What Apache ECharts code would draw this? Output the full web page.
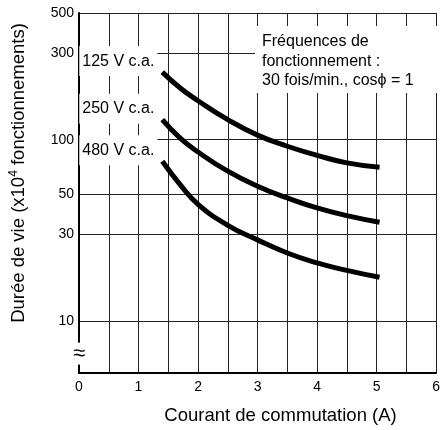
<!DOCTYPE html>
<html>
<head>
<meta charset="utf-8">
<script src="https://cdn.jsdelivr.net/npm/echarts@6/dist/echarts.min.js"></script>
<style>
  html, body { margin: 0; padding: 0; background: #fff; }
  #chart { width: 443px; height: 430px; }
</style>
</head>
<body>
<div id="chart"></div>
<script>
// courant de commutation (A)
const currentA = [1.4, 1.7, 2.0, 2.5, 3.0, 3.5, 4.0, 4.5, 5.05];
// durée de vie (x10^4 fonctionnements)
const life125 = [236, 193, 164, 129, 106, 92, 82, 74.5, 70.5];
const life250 = [129, 102, 85.5, 67, 55.3, 47.7, 42, 38.1, 35];
const life480 = [76, 56.5, 44, 33.7, 28, 23.7, 20.9, 19.0, 17.4];
const seriesNames = ['125 V c.a.', '250 V c.a.', '480 V c.a.'];
const yTicks = [10, 30, 50, 100, 300, 500];

const FONT = '"Liberation Sans", Arial, sans-serif';

const chart = echarts.init(document.getElementById('chart'));

const makeSeries = (name, values) => ({
  name: name,
  type: 'line',
  smooth: true,
  symbol: 'none',
  lineStyle: { color: '#000', width: 5, cap: 'butt' },
  data: currentA.map((x, i) => i === 0
    ? {
        value: [x, values[i]],
        symbol: 'circle',
        symbolSize: 0,
        label: {
          show: true,
          formatter: name,
          position: 'left',
          distance: 5,
          offset: [0, -11],
          color: '#000',
          fontFamily: FONT,
          fontSize: 16,
          backgroundColor: '#fff',
          padding: [7, 3]
        }
      }
    : [x, values[i]]),
  z: 3
});

const option = {
  animation: false,
  grid: { left: 77, right: 1, top: 13, bottom: 55 },
  xAxis: {
    type: 'value',
    min: 0,
    max: 6,
    interval: 0.5,
    name: 'Courant de commutation (A)',
    nameLocation: 'middle',
    nameGap: 33,
    nameTextStyle: {
      color: '#000',
      fontFamily: FONT,
      fontSize: 18.5,
      padding: [0, 0, 0, 46]
    },
    axisLine: { show: true, onZero: false, lineStyle: { color: '#000', width: 2 } },
    axisTick: { show: false },
    axisLabel: {
      color: '#000',
      fontFamily: FONT,
      fontSize: 14,
      margin: 7,
      formatter: v => (v % 1 === 0 ? String(v) : '')
    },
    splitLine: { show: true, lineStyle: { color: '#222', width: 1 } }
  },
  yAxis: {
    type: 'log',
    min: 5.16,
    max: 500,
    name: 'Durée de vie (x10{sup|4} fonctionnements)',
    nameLocation: 'middle',
    nameGap: 50,
    nameTextStyle: {
      color: '#000',
      fontFamily: FONT,
      fontSize: 18.5,
      padding: [0, 0, 0, 40],
      rich: {
        sup: {
          color: '#000',
          fontFamily: FONT,
          fontSize: 12,
          verticalAlign: 'bottom',
          padding: [0, 0, 9, 0]
        }
      }
    },
    axisLine: { show: true, lineStyle: { color: '#000', width: 2 } },
    axisTick: { show: false, customValues: yTicks },
    axisLabel: {
      color: '#000',
      fontFamily: FONT,
      fontSize: 14,
      margin: 5,
      customValues: yTicks
    },
    splitLine: { show: true, lineStyle: { color: '#222', width: 1 } }
  },
  series: [
    makeSeries(seriesNames[0], life125),
    makeSeries(seriesNames[1], life250),
    makeSeries(seriesNames[2], life480)
  ]
};

chart.setOption(option);

// note box and axis break mark
const brk = chart.convertToPixel({ gridIndex: 0 }, [0, 6.6]);
chart.setOption({
  graphic: [
    {
      type: 'rect',
      shape: { x: 255, y: 26, width: 183, height: 67 },
      style: { fill: '#fff' },
      z: 10
    },
    {
      type: 'text',
      x: 262,
      y: 32,
      style: {
        text: 'Fréquences de\nfonctionnement :\n30 fois/min., cosϕ = 1',
        fill: '#000',
        font: '16px ' + FONT,
        lineHeight: 19.5
      },
      z: 11
    },
    {
      type: 'text',
      x: brk[0],
      y: brk[1],
      style: {
        text: '≈',
        fill: '#000',
        font: '22px ' + FONT,
        align: 'center',
        verticalAlign: 'middle',
        backgroundColor: '#fff'
      },
      z: 10
    }
  ]
});
</script>
</body>
</html>
